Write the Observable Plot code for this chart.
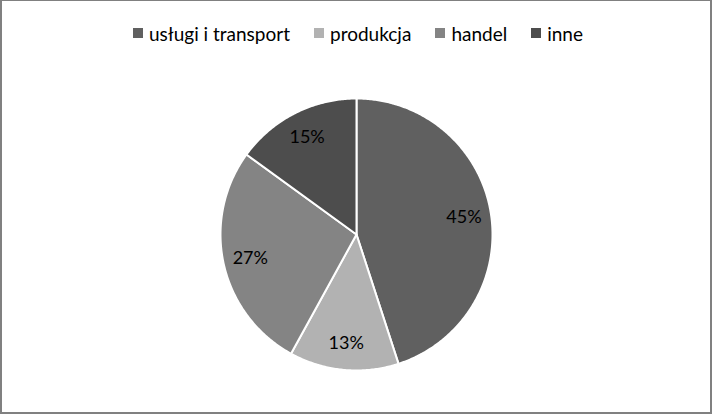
<!DOCTYPE html>
<html>
<head>
<meta charset="utf-8">
<script src="https://cdn.jsdelivr.net/npm/d3@7"></script>
<script src="https://cdn.jsdelivr.net/npm/@observablehq/plot@0.6"></script>
<style>
  html, body { margin: 0; padding: 0; background: #fff; }
  #frame {
    width: 712px; height: 414px; box-sizing: border-box;
    border-style: solid; border-color: #808080;
    border-width: 1px 2px 2px 2px;
    position: relative; overflow: hidden;
    font-family: Lato, "Open Sans", sans-serif;
  }
  #legend {
    height: 64px; display: flex; justify-content: center; align-items: center;
    font-size: 19px; color: #000; padding-left: 4px; box-sizing: border-box;
  }
  .item { display: flex; align-items: center; margin: 0 12px; }
  .sw { width: 10px; height: 10px; margin-right: 6px; }
  svg { display: block; }
</style>
</head>
<body>
<div id="frame">
  <div id="legend"></div>
  <div id="chart"></div>
</div>
<script>
const categories = ["usługi i transport", "produkcja", "handel", "inne"];
const values = [45, 13, 27, 15];
const labels = ["45%", "13%", "27%", "15%"];
const colors = ["#606060", "#b2b2b2", "#848484", "#4d4d4d"];

// legend
const legend = document.getElementById("legend");
categories.forEach((c, i) => {
  const it = document.createElement("div");
  it.className = "item";
  const sw = document.createElement("span");
  sw.className = "sw";
  sw.style.background = colors[i];
  const t = document.createElement("span");
  t.textContent = c;
  it.appendChild(sw); it.appendChild(t);
  legend.appendChild(it);
});

// pie geometry
const arcs = d3.pie().sort(null)(values);
const pts = [];
const lab = [];
arcs.forEach((a, i) => {
  const cat = categories[i];
  pts.push({cat, x: 0, y: 0});
  const n = Math.max(2, Math.ceil((a.endAngle - a.startAngle) / 0.01));
  for (let k = 0; k <= n; k++) {
    const t = a.startAngle + (a.endAngle - a.startAngle) * k / n;
    pts.push({cat, x: Math.sin(t), y: Math.cos(t)});
  }
  const m = (a.startAngle + a.endAngle) / 2;
  lab.push({x: 0.8 * Math.sin(m), y: 0.8 * Math.cos(m), text: labels[i]});
});

const W = 708, H = 347, cx = 354, cy = 169, r = 136;
const chart = Plot.plot({
  width: W, height: H,
  margin: 0,
  style: {fontFamily: "Lato, 'Open Sans', sans-serif", background: "white"},
  x: {domain: [-1, 1], range: [cx - r, cx + r], axis: null},
  y: {domain: [-1, 1], range: [cy + r, cy - r], axis: null},
  color: {domain: categories, range: colors},
  marks: [
    Plot.line(pts, {x: "x", y: "y", z: "cat", fill: "cat", stroke: "white", strokeWidth: 2, curve: "linear-closed", strokeLinejoin: "round"}),
    Plot.text(lab, {x: "x", y: "y", text: "text", fontSize: 18, fill: "black"})
  ]
});
document.getElementById("chart").appendChild(chart);
</script>
</body>
</html>
